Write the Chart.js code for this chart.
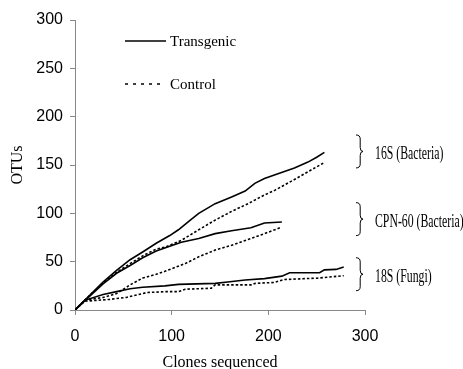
<!DOCTYPE html>
<html>
<head>
<meta charset="utf-8">
<script src="https://cdn.jsdelivr.net/npm/chart.js@4.4.1/dist/chart.umd.min.js"></script>
<style>
  html, body { margin: 0; padding: 0; background: #fff; }
  #wrap { width: 463px; height: 369px; }
</style>
</head>
<body>
<div id="wrap"><canvas id="chart" width="463" height="369"></canvas></div>
<script>
// rarefaction curves: [clones sequenced, OTUs]
const s16Transgenic = [[0,0],[15,15],[29,29],[43,41],[57,52],[70,60],[84,69],[98,77],[107,83],[118,92],[128,100],[145,110],[162,117],[176,123],[186,131],[196,136],[207,140],[227,147],[241,153],[250,158],[258,163]];
const s16Control = [[0,0],[15,15],[29,28],[43,39],[57,48],[70,56],[84,63],[93,65],[110,72],[128,83],[145,93],[162,102],[179,110],[196,119],[207,124],[227,135],[241,143],[257,152]];
const cpnTransgenic = [[0,0],[15,14],[29,27],[43,38],[57,46],[70,54],[84,61],[98,66],[110,70],[128,74],[145,79],[162,82],[182,85],[196,90],[214,91]];
const cpnControl = [[0,0],[10,10],[29,13],[43,17],[57,26],[70,33],[84,37],[93,40],[114,48],[128,55],[145,62],[162,67],[196,79],[212,85]];
const s18Transgenic = [[0,0],[10,10],[29,16],[43,19],[57,22],[70,23.5],[93,25],[107,26.5],[145,27.5],[158,29],[176,31],[196,32.5],[214,35],[222,38.5],[253,38.5],[258,41.5],[270,42],[278,44.5]];
const s18Control = [[0,0],[10,9],[36,11],[53,13],[74,18],[93,19],[107,19],[114,21.5],[141,22.5],[145,26],[183,26],[186,27.5],[206,28.5],[216,31.5],[251,33],[278,35.5]];

const legendLabels = ["Transgenic", "Control"];
const groupLabels = ["16S (Bacteria)", "CPN-60 (Bacteria)", "18S (Fungi)"];
const groupCenters = [164, 94, 37];   // OTU value at bracket centre
const xTicks = [0, 100, 200, 300];
const yTicks = [0, 50, 100, 150, 200, 250, 300];

const toXY = arr => arr.map(p => ({x: p[0], y: p[1]}));

function lineSet(label, pts, dashed) {
  return {
    label: label,
    data: toXY(pts),
    borderColor: "#000",
    borderWidth: 1.6,
    borderDash: dashed ? [2.5, 2] : [],
    pointRadius: 0,
    fill: false,
    tension: 0
  };
}

function drawBrace(ctx, x, yc, h) {
  const w = 6;
  const top = yc - h / 2, bot = yc + h / 2;
  ctx.beginPath();
  ctx.moveTo(x, top);
  ctx.quadraticCurveTo(x + w * 0.7, top, x + w * 0.7, top + 4);
  ctx.lineTo(x + w * 0.7, yc - 4);
  ctx.quadraticCurveTo(x + w * 0.7, yc, x + w + 1, yc);
  ctx.quadraticCurveTo(x + w * 0.7, yc, x + w * 0.7, yc + 4);
  ctx.lineTo(x + w * 0.7, bot - 4);
  ctx.quadraticCurveTo(x + w * 0.7, bot, x, bot);
  ctx.stroke();
}

const annotations = {
  id: "annotations",
  afterDraw(chart) {
    const ctx = chart.ctx;
    const ys = chart.scales.y;
    ctx.save();
    ctx.fillStyle = "#000";
    ctx.strokeStyle = "#000";

    // legend
    ctx.lineWidth = 1.5;
    ctx.beginPath(); ctx.moveTo(125, 41); ctx.lineTo(166, 41); ctx.stroke();
    ctx.lineWidth = 1.3;
    ctx.setLineDash([3, 5]);
    ctx.beginPath(); ctx.moveTo(125, 84); ctx.lineTo(164, 84); ctx.stroke();
    ctx.setLineDash([]);
    ctx.font = "15px 'Liberation Serif'";
    ctx.textBaseline = "middle";
    ctx.textAlign = "left";
    ctx.fillText(legendLabels[0], 170, 42);
    ctx.fillText(legendLabels[1], 170, 85);

    // group braces and names
    ctx.lineWidth = 1;
    groupLabels.forEach((g, i) => {
      const yc = ys.getPixelForValue(groupCenters[i]);
      drawBrace(ctx, 356, yc, 33);
      ctx.save();
      ctx.translate(375, yc + 3);
      ctx.scale(0.62, 1);
      ctx.font = "19px 'Liberation Serif'";
      ctx.fillText(g, 0, 0);
      ctx.restore();
    });
    ctx.restore();
  }
};

new Chart(document.getElementById("chart"), {
  type: "line",
  data: {
    datasets: [
      lineSet("16S Transgenic", s16Transgenic, false),
      lineSet("16S Control", s16Control, true),
      lineSet("CPN-60 Transgenic", cpnTransgenic, false),
      lineSet("CPN-60 Control", cpnControl, true),
      lineSet("18S Transgenic", s18Transgenic, false),
      lineSet("18S Control", s18Control, true)
    ]
  },
  options: {
    responsive: false,
    animation: false,
    layout: { padding: { left: 0, right: 98, top: 20, bottom: 0 } },
    plugins: { legend: { display: false }, tooltip: { enabled: false } },
    scales: {
      x: {
        type: "linear",
        min: 0, max: 300,
        afterBuildTicks: s => { s.ticks = xTicks.map(v => ({value: v})); },
        afterFit: s => { s.height = 59; },
        grid: { drawOnChartArea: false, drawTicks: true, tickLength: 5, color: "#888" },
        border: { display: true, color: "#888", width: 1 },
        ticks: { color: "#000", padding: 12, maxRotation: 0, font: { family: "'Liberation Sans'", size: 16 } },
        title: { display: true, text: "Clones sequenced", color: "#000",
                 padding: { top: 0, bottom: -2 },
                 font: { family: "'Liberation Serif'", size: 16, lineHeight: 1 } }
      },
      y: {
        type: "linear",
        min: 0, max: 300,
        afterBuildTicks: s => { s.ticks = yTicks.map(v => ({value: v})); },
        afterFit: s => { s.width = 75; },
        grid: { drawOnChartArea: false, drawTicks: true, tickLength: 5, color: "#888" },
        border: { display: true, color: "#888", width: 1 },
        ticks: { color: "#000", padding: 7, font: { family: "'Liberation Sans'", size: 16 } },
        title: { display: true, text: "OTUs", color: "#000",
                 padding: { top: 10, bottom: 0 },
                 font: { family: "'Liberation Serif'", size: 16, lineHeight: 1 } }
      }
    }
  },
  plugins: [annotations]
});
</script>
</body>
</html>
